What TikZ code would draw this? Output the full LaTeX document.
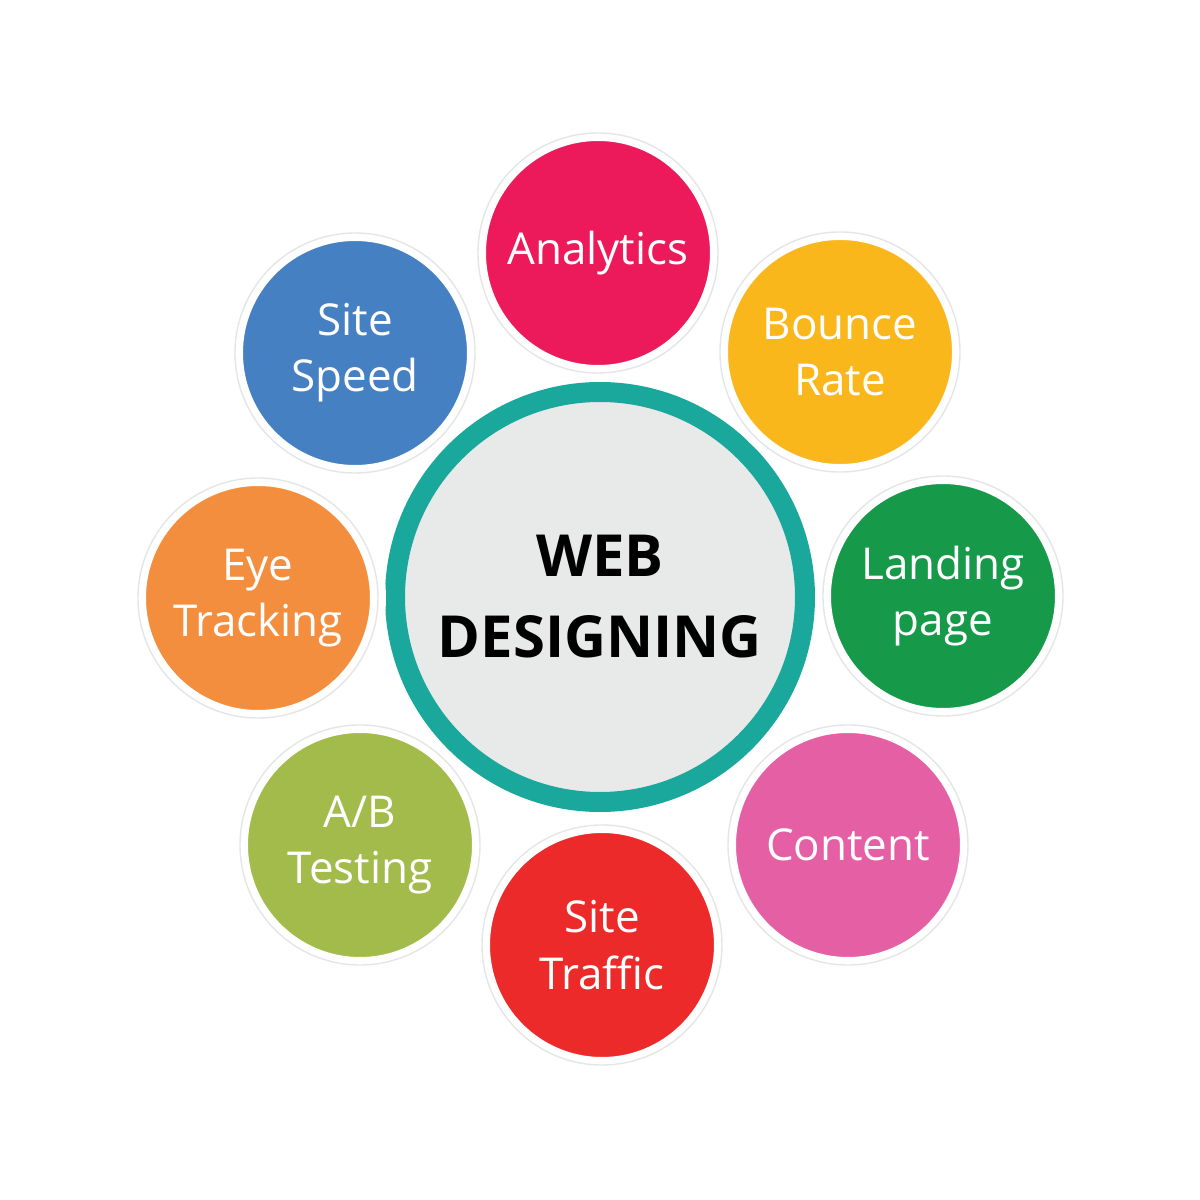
\documentclass[tikz,border=0pt]{standalone}
\usepackage{fontspec}
\setmainfont{Open Sans}
\usetikzlibrary{positioning}
\definecolor{ringteal}{HTML}{1BA89C}
\definecolor{hubgray}{HTML}{E8E9E9}
\definecolor{cAnalytics}{HTML}{EC1A5B}
\definecolor{cBounce}{HTML}{FAB71B}
\definecolor{cLanding}{HTML}{17994A}
\definecolor{cContent}{HTML}{E55FA4}
\definecolor{cTraffic}{HTML}{EC2A2A}
\definecolor{cTesting}{HTML}{A2BB4A}
\definecolor{cEye}{HTML}{F48E3F}
\definecolor{cSpeed}{HTML}{4580C3}
\definecolor{rimgray}{HTML}{E4E6E6}

\begin{document}
\begin{tikzpicture}[x=1cm,y=1cm,
    topic/.style={circle,minimum size=2.4cm,inner sep=0pt,align=center,
      text=white,font=\fontsize{12.5}{16}\selectfont,
      draw=white,line width=1.6mm,
      postaction={draw=rimgray,line width=0.4pt}},
    hub/.style={circle,minimum size=4.1cm,inner sep=0pt,align=center,
      fill=hubgray,draw=ringteal,line width=2mm,
      font=\fontsize{16.5}{23}\selectfont\bfseries}]
  \useasboundingbox (0,0) rectangle (12,12);

  \node[hub] (web) at (6,6.03) {WEB\\DESIGNING};

  % topics around the hub
  \node[topic,fill=cAnalytics] (analytics) at (5.98,9.47) {Analytics};
  \node[topic,fill=cBounce] (bounce) at (8.40,8.48) {Bounce\\Rate};
  \node[topic,fill=cLanding] (landing) at (9.43,6.04) {Landing\\page};
  \node[topic,fill=cContent] (content) at (8.48,3.55) {Content};
  \node[topic,fill=cTraffic] (traffic) at (6.02,2.55) {Site\\Traffic};
  \node[topic,fill=cTesting] (testing) at (3.60,3.55) {A/B\\Testing};
  \node[topic,fill=cEye] (eye) at (2.58,6.02) {Eye\\Tracking};
  \node[topic,fill=cSpeed] (speed) at (3.55,8.47) {Site\\Speed};
\end{tikzpicture}
\end{document}
